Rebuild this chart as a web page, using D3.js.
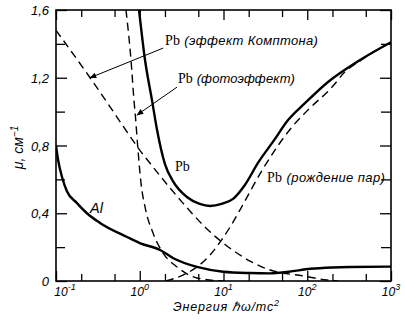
<!DOCTYPE html>
<html><head><meta charset="utf-8">
<script src="https://cdn.jsdelivr.net/npm/d3@7"></script>
<style>body{margin:0;background:#fff} svg{display:block}</style>
</head><body>
<svg id="c" width="405" height="327"></svg>
<script>
// ---- data ----
const xMajorTicks = [0.1, 1, 10, 100, 1000];
const xTickExponents = ["-1", "0", "1", "2", "3"];
const xMinorTicks = [0.2, 0.5, 2, 5, 20, 50, 200, 500];
const yMajorTicks = [0, 0.4, 0.8, 1.2, 1.6];
const yTickLabels = ["0", "0,4", "0,8", "1,2", "1,6"];
const yMinorTicks = [0.2, 0.6, 1.0, 1.4];

const alEnergy = [0.1, 0.106, 0.118, 0.135, 0.178, 0.234, 0.335, 0.705, 1.0, 1.75, 2.49, 4.83, 9.9, 20.7, 36, 60, 109, 200, 322, 1000];
const alMu     = [0.80, 0.714, 0.614, 0.53, 0.46, 0.40, 0.343, 0.26, 0.224, 0.183, 0.136, 0.083, 0.055, 0.047, 0.045, 0.055, 0.072, 0.08, 0.083, 0.085];

const pbTotalEnergy = [0.98, 1.156, 1.40, 1.61, 2.0, 2.49, 3.66, 5.2, 6.9, 9.5, 13, 18, 25.8, 40, 59, 94, 177, 427, 1000];
const pbTotalMu     = [1.6, 1.305, 1.068, 0.891, 0.69, 0.59, 0.496, 0.455, 0.443, 0.455, 0.485, 0.567, 0.697, 0.83, 0.95, 1.05, 1.175, 1.305, 1.41];

const pbPhotoEnergy = [0.685, 0.786, 0.853, 0.889, 0.953, 1.035, 1.156, 1.44, 1.90, 2.79, 4.83, 9.87];
const pbPhotoMu     = [1.6, 1.305, 1.068, 0.968, 0.773, 0.578, 0.437, 0.283, 0.165, 0.083, 0.018, 0];

const pbComptonEnergy = [0.1, 0.255, 0.44, 0.631, 1.0, 1.44, 2.3, 3.28, 6.35, 11, 20.7, 36, 89, 172, 233];
const pbComptonMu     = [1.48, 1.2, 1.03, 0.915, 0.773, 0.673, 0.549, 0.46, 0.307, 0.207, 0.118, 0.065, 0.03, 0.006, 0];

const pbPairEnergy = [2.05, 3.28, 4.83, 6.9, 9.1, 12, 15.7, 29, 66, 102, 198, 282, 427, 1000];
const pbPairMu     = [0, 0.035, 0.083, 0.153, 0.23, 0.319, 0.419, 0.655, 0.91, 1.01, 1.145, 1.235, 1.30, 1.41];

// ---- layout ----
const W = 405, H = 327;
const margin = {left: 56, right: 14, top: 10, bottom: 46};
const svg = d3.select("#c");
const x = d3.scaleLog().domain([0.1, 1000]).range([margin.left, W - margin.right]);
const y = d3.scaleLinear().domain([0, 1.6]).range([H - margin.bottom, margin.top]);
const x0 = x.range()[0], x1 = x.range()[1], y0 = y.range()[0], y1 = y.range()[1];

svg.append("defs").append("clipPath").attr("id", "clip")
  .append("rect").attr("x", x0).attr("y", y1).attr("width", x1 - x0).attr("height", y0 - y1);

const zip = (a, b) => a.map((v, i) => [v, b[i]]);
const line = d3.line().x(d => x(d[0])).y(d => y(d[1])).curve(d3.curveMonotoneX);

const g = svg.append("g").attr("clip-path", "url(#clip)");
function curve(E, M, dashed) {
  g.append("path").datum(zip(E, M)).attr("d", line)
    .attr("fill", "none").attr("stroke", "#000")
    .attr("stroke-width", dashed ? 1.4 : 2.4)
    .attr("stroke-dasharray", dashed ? "8,5" : null)
    .attr("stroke-linejoin", "round");
}
curve(pbComptonEnergy, pbComptonMu, true);
curve(pbPhotoEnergy, pbPhotoMu, true);
curve(pbPairEnergy, pbPairMu, true);
curve(alEnergy, alMu, false);
curve(pbTotalEnergy, pbTotalMu, false);

// ---- axes (ticks inside, all four sides) ----
const axG = svg.append("g");
const axBottom = d3.axisBottom(x).tickValues(xMajorTicks).tickSize(-10).tickFormat("");
const axBottomMinor = d3.axisBottom(x).tickValues(xMinorTicks).tickSize(-7).tickFormat("");
const axTop = d3.axisTop(x).tickValues(xMajorTicks).tickSize(-10).tickFormat("");
const axTopMinor = d3.axisTop(x).tickValues(xMinorTicks).tickSize(-7).tickFormat("");
const axLeft = d3.axisLeft(y).tickValues(yMajorTicks).tickSize(-11).tickFormat("");
const axLeftMinor = d3.axisLeft(y).tickValues(yMinorTicks).tickSize(-9).tickFormat("");
const axRight = d3.axisRight(y).tickValues(yMajorTicks).tickSize(-11).tickFormat("");
const axRightMinor = d3.axisRight(y).tickValues(yMinorTicks).tickSize(-10).tickFormat("");
[[axBottom, `translate(0,${y0})`], [axBottomMinor, `translate(0,${y0})`],
 [axTop, `translate(0,${y1})`], [axTopMinor, `translate(0,${y1})`],
 [axLeft, `translate(${x0},0)`], [axLeftMinor, `translate(${x0},0)`],
 [axRight, `translate(${x1},0)`], [axRightMinor, `translate(${x1},0)`]].forEach(([a, t]) => {
  const ag = axG.append("g").attr("transform", t).call(a);
  ag.select(".domain").remove();
  ag.selectAll(".tick line").attr("stroke", "#000").attr("stroke-width", 1.3);
});
svg.append("rect").attr("x", x0).attr("y", y1).attr("width", x1 - x0).attr("height", y0 - y1)
  .attr("fill", "none").attr("stroke", "#000").attr("stroke-width", 1.6);

const italic = "'Liberation Sans', Arial, sans-serif";
// stretch a text to a target width by letter-spacing (glyph size unchanged)
function fitSpacing(sel, target) {
  sel.each(function () {
    const cur = this.getComputedTextLength();
    const n = this.textContent.length;
    if (cur > 0 && n > 1) d3.select(this).attr("letter-spacing", ((target - cur) / (n - 1)).toFixed(2));
  });
}

// y tick labels
svg.append("g").selectAll("text").data(yMajorTicks).join("text")
  .attr("x", x0 - 7).attr("y", d => y(d) + 5)
  .attr("text-anchor", "end").attr("font-family", italic).attr("font-style", "italic")
  .attr("font-size", 13).text((d, i) => yTickLabels[i]);

// x tick labels (10^n)
const xl = svg.append("g").selectAll("text").data(xMajorTicks).join("text")
  .attr("x", (d, i) => i === 0 ? x(d) + 9 : x(d))
  .attr("y", y0 + 15)
  .attr("text-anchor", "middle").attr("font-family", italic).attr("font-style", "italic")
  .attr("font-size", 12);
xl.append("tspan").text("10");
xl.append("tspan").attr("dy", -6).attr("font-size", 9).text((d, i) => xTickExponents[i]);

// axis titles
svg.append("text").attr("transform", `translate(23,${(y0 + y1) / 2 + 2}) rotate(-90)`)
  .attr("text-anchor", "middle").attr("font-family", italic).attr("font-style", "italic")
  .attr("font-size", 14)
  .call(t => { t.append("tspan").text("μ,  см"); t.append("tspan").attr("dy", -5).attr("font-size", 10).text("−1"); });
const xTitle = svg.append("text").attr("x", (x0 + x1) / 2 + 3).attr("y", y0 + 30)
  .attr("text-anchor", "middle").attr("font-family", italic).attr("font-style", "italic")
  .attr("font-size", 12.5)
  .call(t => { t.append("tspan").text("Энергия ℏω/mc"); t.append("tspan").attr("dy", -5).attr("font-size", 9).text("2"); });
fitSpacing(xTitle, 106);

// ---- annotations ----
svg.append("defs").append("marker").attr("id", "arr").attr("viewBox", "0 0 10 10")
  .attr("refX", 9).attr("refY", 5).attr("markerWidth", 7).attr("markerHeight", 7).attr("orient", "auto")
  .append("path").attr("d", "M0,1 L10,5 L0,9 Z").attr("fill", "#000");
const arrows = [
  {from: [1.90, 1.375], to: [0.255, 1.2]},
  {from: [2.79, 1.145], to: [0.927, 0.98]}
];
svg.append("g").selectAll("line").data(arrows).join("line")
  .attr("x1", d => x(d.from[0])).attr("y1", d => y(d.from[1]))
  .attr("x2", d => x(d.to[0])).attr("y2", d => y(d.to[1]))
  .attr("stroke", "#000").attr("stroke-width", 1).attr("marker-end", "url(#arr)");

const labels = [
  {E: 2.0, mu: 1.393, main: "Pb", sub: " (эффект Комптона)", w: 153, fs: 13},
  {E: 2.86, mu: 1.169, main: "Pb", sub: " (фотоэффект)", w: 117, fs: 13},
  {E: 2.64, mu: 0.649, main: "Pb", sub: "", w: 0, fs: 13},
  {E: 0.255, mu: 0.40, main: "", sub: "Al", w: 0, fs: 14.5},
  {E: 33, mu: 0.584, main: "Pb", sub: " (рождение пар)", w: 118, fs: 13}
];
const lt = svg.append("g").selectAll("text").data(labels).join("text")
  .attr("x", d => x(d.E)).attr("y", d => y(d.mu)).attr("font-size", d => d.fs);
lt.append("tspan").attr("font-family", "'Liberation Serif', serif").attr("font-size", 14).text(d => d.main);
lt.append("tspan").attr("font-family", italic).attr("font-style", "italic").text(d => d.sub);
lt.filter(d => d.w > 0).each(function (d) { fitSpacing(d3.select(this), d.w); });
</script>
</body></html>
